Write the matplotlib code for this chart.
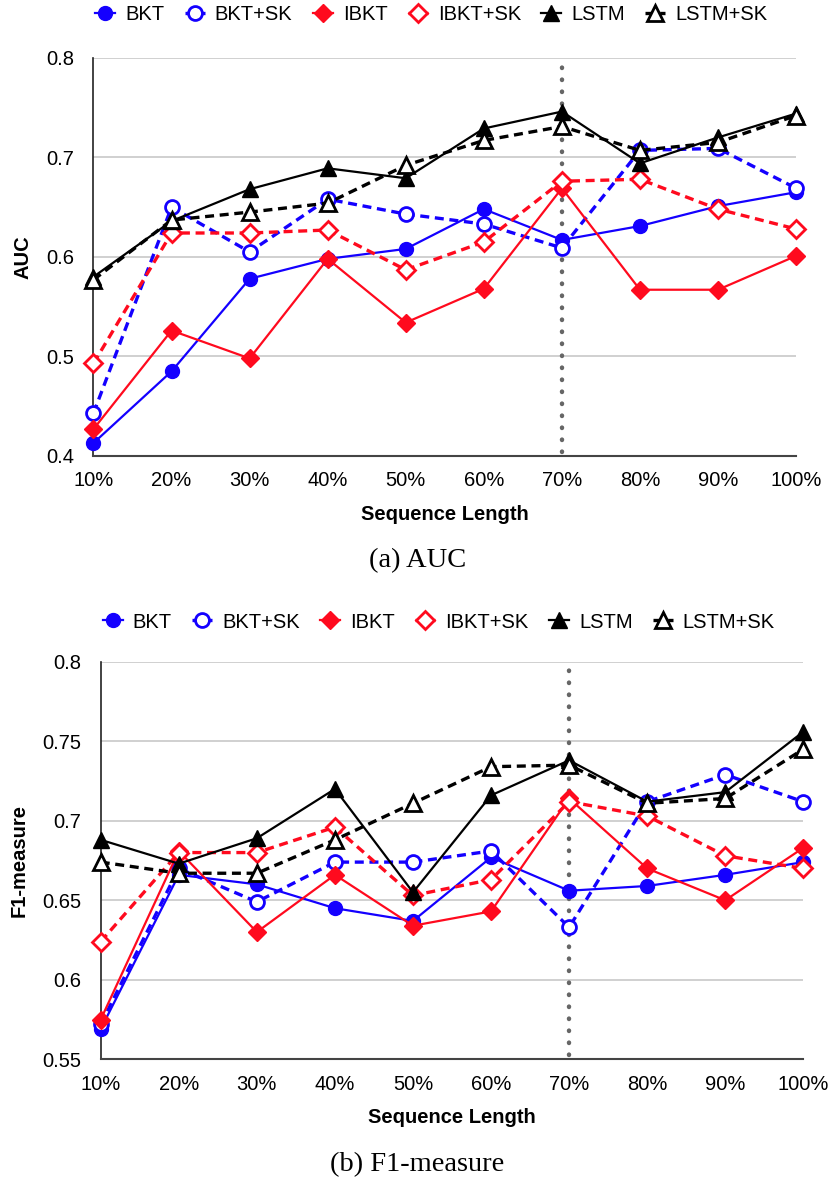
"""AUC and F1-measure vs. sequence length for BKT / IBKT / LSTM with and without SK."""

import matplotlib
matplotlib.use("Agg")
import matplotlib.pyplot as plt

lengths = ["10%", "20%", "30%", "40%", "50%", "60%", "70%", "80%", "90%", "100%"]

auc_bkt = [0.413, 0.485, 0.578, 0.598, 0.608, 0.648, 0.617, 0.631, 0.651, 0.665]
auc_bkt_sk = [0.443, 0.650, 0.605, 0.658, 0.643, 0.633, 0.609, 0.707, 0.709, 0.669]
auc_ibkt = [0.427, 0.526, 0.498, 0.598, 0.534, 0.568, 0.669, 0.567, 0.567, 0.601]
auc_ibkt_sk = [0.493, 0.624, 0.624, 0.627, 0.587, 0.615, 0.676, 0.678, 0.648, 0.628]
auc_lstm = [0.580, 0.636, 0.668, 0.689, 0.679, 0.729, 0.746, 0.694, 0.720, 0.744]
auc_lstm_sk = [0.577, 0.637, 0.645, 0.654, 0.692, 0.717, 0.731, 0.707, 0.715, 0.742]

f1_bkt = [0.569, 0.666, 0.660, 0.645, 0.637, 0.677, 0.656, 0.659, 0.666, 0.674]
f1_bkt_sk = [0.572, 0.670, 0.649, 0.674, 0.674, 0.681, 0.633, 0.712, 0.729, 0.712]
f1_ibkt = [0.575, 0.681, 0.630, 0.666, 0.634, 0.643, 0.714, 0.670, 0.650, 0.683]
f1_ibkt_sk = [0.624, 0.680, 0.680, 0.696, 0.653, 0.663, 0.712, 0.703, 0.678, 0.670]
f1_lstm = [0.688, 0.673, 0.689, 0.720, 0.655, 0.716, 0.738, 0.712, 0.718, 0.756]
f1_lstm_sk = [0.674, 0.667, 0.667, 0.688, 0.711, 0.734, 0.735, 0.711, 0.714, 0.745]

names = ["BKT", "BKT+SK", "IBKT", "IBKT+SK", "LSTM", "LSTM+SK"]
BLUE, RED, BLACK = "#1400ff", "#ff0a1e", "#000000"
DASH = (0, (2.7, 1.7))
styles = [
    dict(color=BLUE, marker="o", ls="-", lw=1.6, ms=10, mfc=BLUE),
    dict(color=BLUE, marker="o", ls=DASH, lw=2.4, ms=10, mfc="white", mew=2),
    dict(color=RED, marker="D", ls="-", lw=1.6, ms=9, mfc=RED),
    dict(color=RED, marker="D", ls=DASH, lw=2.4, ms=9, mfc="white", mew=2),
    dict(color=BLACK, marker="^", ls="-", lw=1.6, ms=12, mfc=BLACK),
    dict(color=BLACK, marker="^", ls=DASH, lw=2.4, ms=12, mfc="white", mew=2),
]

plt.rcParams["font.family"] = ["Liberation Sans", "DejaVu Sans"]

fig = plt.figure(figsize=(8.31, 11.8), dpi=100)
ax1 = fig.add_axes([0.1125, 0.6136, 0.8455, 0.3374])
ax2 = fig.add_axes([0.1212, 0.1023, 0.8455, 0.3369])


def draw(ax, series, ylim, yticks, ytick_labels, ylabel, ylabel_x, legend_xy):
    x = list(range(len(lengths)))
    ax.axvline(6, ymin=0.01, ymax=0.98, color="#666666", ls=(0, (0.1, 2.6)),
               lw=3.2, dash_capstyle="round", zorder=1.5)
    for name, vals, st in zip(names, series, styles):
        ax.plot(x, vals, label=name, zorder=3, **st)
    ax.set_xlim(0, len(lengths) - 1)
    ax.set_ylim(*ylim)
    ax.set_xticks(x)
    ax.set_xticklabels(lengths, fontsize=14.5)
    ax.set_yticks(yticks)
    ax.set_yticklabels(ytick_labels, fontsize=14.5)
    ax.tick_params(axis="x", length=0, pad=11)
    ax.tick_params(axis="y", length=0, pad=14)
    ax.grid(axis="y", color="#c8c8c8", lw=1.2)
    ax.set_axisbelow(True)
    for s in ("top", "right"):
        ax.spines[s].set_visible(False)
    ax.spines["left"].set_color("#222222")
    ax.spines["bottom"].set_color("#444444")
    ax.spines["left"].set_linewidth(1.2)
    ax.spines["bottom"].set_linewidth(1.5)
    ax.set_xlabel("Sequence Length", fontsize=14.5, fontweight="bold")
    ax.set_ylabel(ylabel, fontsize=14.5, fontweight="bold")
    ax.xaxis.set_label_coords(0.5, -0.147)
    ax.xaxis.label.set_va("center")
    ax.yaxis.set_label_coords(ylabel_x, 0.5)
    ax.yaxis.label.set_va("center")
    fig.legend(*ax.get_legend_handles_labels(), loc="center",
               bbox_to_anchor=legend_xy, ncol=6, frameon=False, fontsize=14.5,
               handlelength=1.0, handletextpad=0.5, columnspacing=1.0,
               borderaxespad=0)
    for line in ax.get_lines():
        line.set_clip_on(False)


draw(ax1, [auc_bkt, auc_bkt_sk, auc_ibkt, auc_ibkt_sk, auc_lstm, auc_lstm_sk],
     (0.4, 0.8), [0.4, 0.5, 0.6, 0.7, 0.8], ["0.4", "0.5", "0.6", "0.7", "0.8"],
     "AUC", -0.100, (0.519, 1 - 15 / 1180))
draw(ax2, [f1_bkt, f1_bkt_sk, f1_ibkt, f1_ibkt_sk, f1_lstm, f1_lstm_sk],
     (0.55, 0.8), [0.55, 0.6, 0.65, 0.7, 0.75, 0.8],
     ["0.55", "0.6", "0.65", "0.7", "0.75", "0.8"],
     "F1-measure", -0.116, (0.528, 1 - 622 / 1180))

fig.text(0.502, 1 - 561 / 1180, "(a) AUC", ha="center", va="center",
         fontsize=20.5, family=["Liberation Serif", "DejaVu Serif"])
fig.text(0.502, 1 - 1165 / 1180, "(b) F1-measure", ha="center", va="center",
         fontsize=20.5, family=["Liberation Serif", "DejaVu Serif"])

fig.savefig("out.png", dpi=100)
